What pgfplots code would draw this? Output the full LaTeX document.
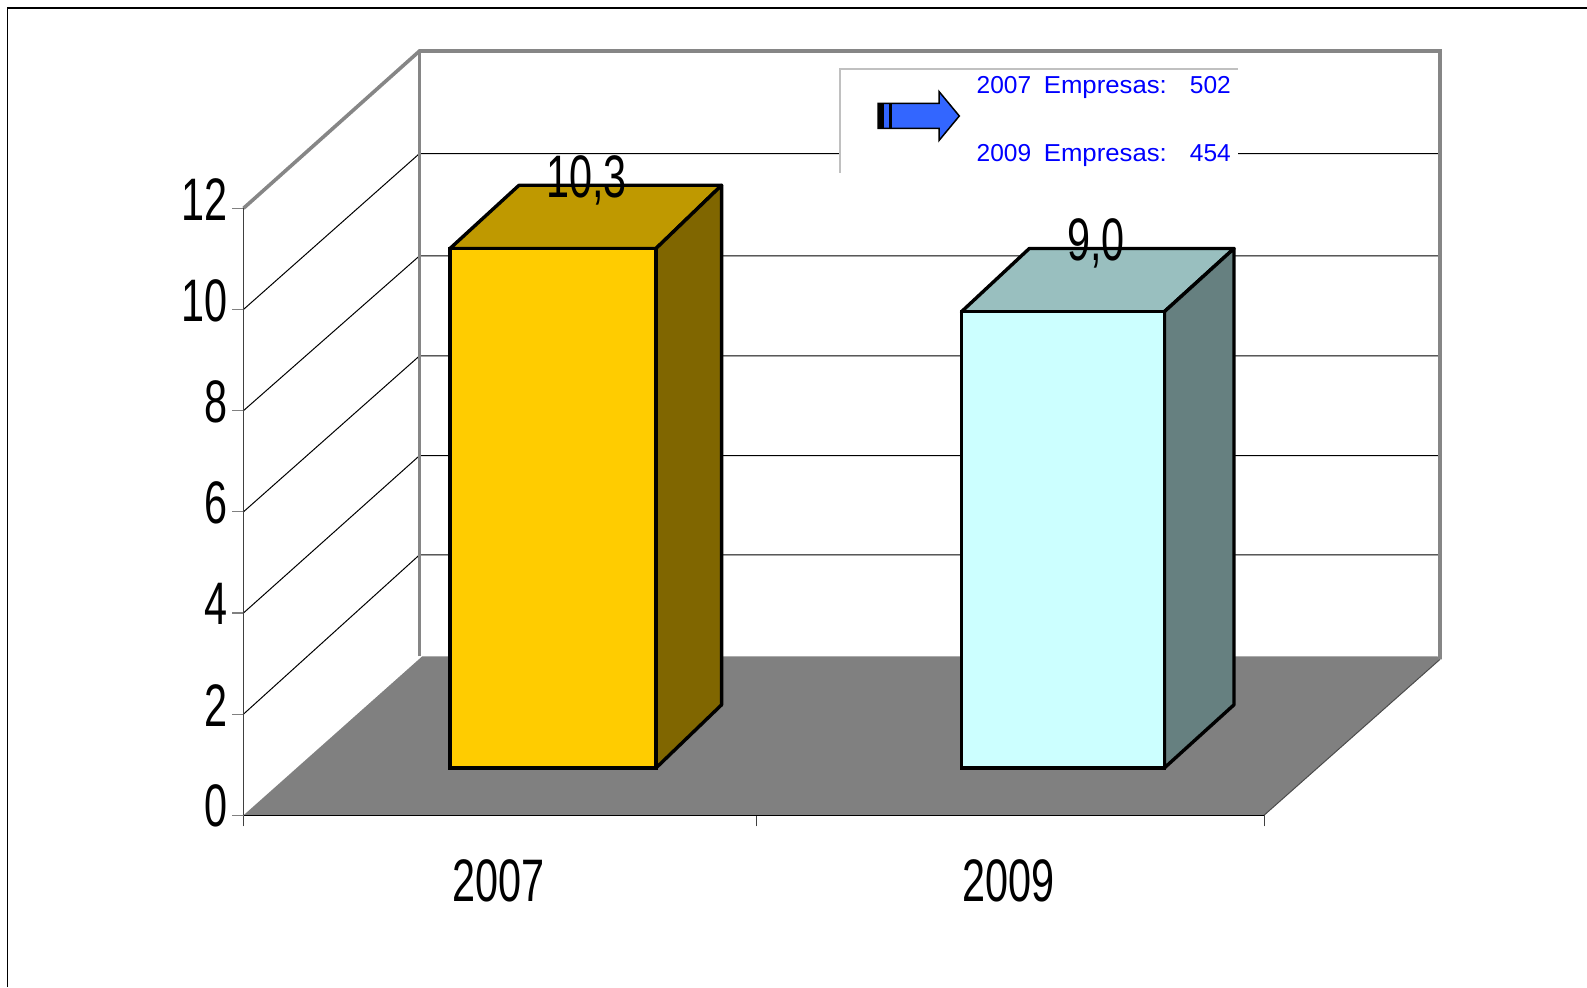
\documentclass[border=0pt]{standalone}
\usepackage{pgfplots}
\pgfplotsset{compat=1.18}
\usepackage{fontspec}
\setmainfont{Liberation Sans}
\newfontfamily\cond[FakeStretch=0.69]{Liberation Sans}
\definecolor{wall}{HTML}{868686}
\definecolor{floorc}{HTML}{808080}
\definecolor{goldF}{HTML}{FFCC00}
\definecolor{goldT}{HTML}{BF9900}
\definecolor{goldS}{HTML}{806600}
\definecolor{cyanF}{HTML}{CCFFFF}
\definecolor{cyanT}{HTML}{99BFBF}
\definecolor{cyanS}{HTML}{668080}
\definecolor{boxg}{HTML}{C0C0C0}
\definecolor{arrowb}{HTML}{3366FF}
\newcommand{\bigtxt}{\cond\fontsize{30}{36}\selectfont}
\pgfplotsset{common/.style={
  scale only axis,width=510.25pt,height=303.5pt,
  xmin=0,xmax=2,ymin=0,ymax=12,clip=false}}
\begin{document}
\begin{tikzpicture}
\useasboundingbox (0,0) rectangle (793.5pt,493.5pt);
% floor, walls and grid, front plane is x 0..2, y 0..12
\begin{axis}[common,at={(121.75pt,85.85pt)},
  axis on top,axis lines=left,axis line style={-},
  x axis line style={black,line width=.8pt},
  y axis line style={black!75,line width=.8pt},
  tick align=outside,major tick length=5.5pt,
  ytick={0,2,...,12},xtick={0,1.005,2},xticklabels={,,},
  y tick style={floorc,line width=.6pt},x tick style={black!75,line width=.5pt},
  extra x ticks={0.5,1.5},extra x tick labels={2007,2009},
  extra x tick style={major tick length=0pt},
  tick label style={font=\bigtxt,inner sep=0pt},
  /pgf/number format/assume math mode=true,
  y tick label style={xshift=-2.3pt,yshift=4.5pt},
  x tick label style={yshift=-22.2pt}]
\addplot[fill=floorc,draw=none] coordinates {(0,0) (2,0) (2.345,3.083) (2.34,3.14) (0.35,3.14)} --cycle;
\addplot[black,line width=.5pt] coordinates {(0,2) (0.345,5.15) (2.345,5.15)};
\addplot[black,line width=.5pt] coordinates {(0,4) (0.345,7.11) (2.345,7.11)};
\addplot[black,line width=.5pt] coordinates {(0,6) (0.345,9.083) (2.345,9.083)};
\addplot[black,line width=.5pt] coordinates {(0,8) (0.345,11.06) (2.345,11.06)};
\addplot[black,line width=.5pt] coordinates {(0,10) (0.345,13.083) (2.345,13.083)};
\addplot[black!70,line width=.5pt] coordinates {(2,0) (2.345,3.083)};
\addplot[wall,line width=1.8pt] coordinates {(0.345,3.14) (0.345,15.11)};
\addplot[wall,line width=1.8pt] coordinates {(0,12) (0.345,15.11) (2.345,15.11) (2.345,3.083)};
\end{axis}
% bars stand on a base further back on the floor
\begin{axis}[common,at={(121.75pt,109.5pt)},hide axis,
  /pgf/number format/.cd,use comma,fixed,fixed zerofill,precision=1,assume math mode=true]
\addplot[fill=goldT,draw=black,line width=1.7pt,line join=round] coordinates {(0.4047,10.27) (0.8084,10.27) (0.937,11.52) (0.5399,11.52)} --cycle;
\addplot[fill=goldS,draw=black,line width=1.7pt,line join=round] coordinates {(0.8084,0) (0.937,1.25) (0.937,11.52) (0.8084,10.27)} --cycle;
\addplot[fill=cyanT,draw=black,line width=1.7pt,line join=round] coordinates {(1.4071,9.02) (1.8046,9.02) (1.9412,10.27) (1.540,10.27)} --cycle;
\addplot[fill=cyanS,draw=black,line width=1.7pt,line join=round] coordinates {(1.8046,0) (1.9412,1.25) (1.9412,10.27) (1.8046,9.02)} --cycle;
\addplot[ybar,bar width=103pt,bar shift=0pt,fill=goldF,draw=black,line width=1.7pt,
  nodes near coords,nodes near coords style={font=\bigtxt,black,anchor=base,inner sep=0pt,xshift=16.8pt,yshift=25.5pt,line width=0pt}]
  coordinates {(0.6066,10.27)};
\addplot[ybar,bar width=101.4pt,bar shift=0pt,fill=cyanF,draw=black,line width=1.7pt,
  nodes near coords,nodes near coords style={font=\bigtxt,black,anchor=base,inner sep=0pt,xshift=16.5pt,yshift=25.5pt,line width=0pt}]
  coordinates {(1.6058,9.02)};
\end{axis}
% page frame, text box and arrow, in pixels of the picture
\begin{scope}[x=0.5pt,y=-0.5pt,yshift=493.5pt]
\draw[black,line width=.65pt] (7.5,987) -- (7.5,8) -- (1587,8);
\fill[white] (840,69) rectangle (1238,172.7);
\draw[boxg,line width=1pt] (840,172.7) -- (840,69) -- (1238,69);
\draw[black,line width=.75pt,fill=arrowb,line join=miter]
  (878,103.5) -- (939,103.5) -- (939,91.5) -- (959.3,116) -- (939,140.5) -- (939,128.5) -- (878,128.5) -- cycle;
\fill[black] (878,103.5) rectangle (884,128.5);
\fill[black] (889,103.5) rectangle (891.5,128.5);
\begin{scope}[every node/.style={anchor=base west,inner sep=0pt,text=blue,font=\fontsize{12.25}{14}\selectfont}]
\node at (976.3,93.3) {2007};
\node at (1043.5,93.3) {\addfontfeature{FakeStretch=1.05}Empresas:};
\node at (1189.5,93.3) {502};
\node at (976.3,161.8) {2009};
\node at (1043.5,161.8) {\addfontfeature{FakeStretch=1.05}Empresas:};
\node at (1189.5,161.8) {454};
\end{scope}
\end{scope}
\end{tikzpicture}
\end{document}
